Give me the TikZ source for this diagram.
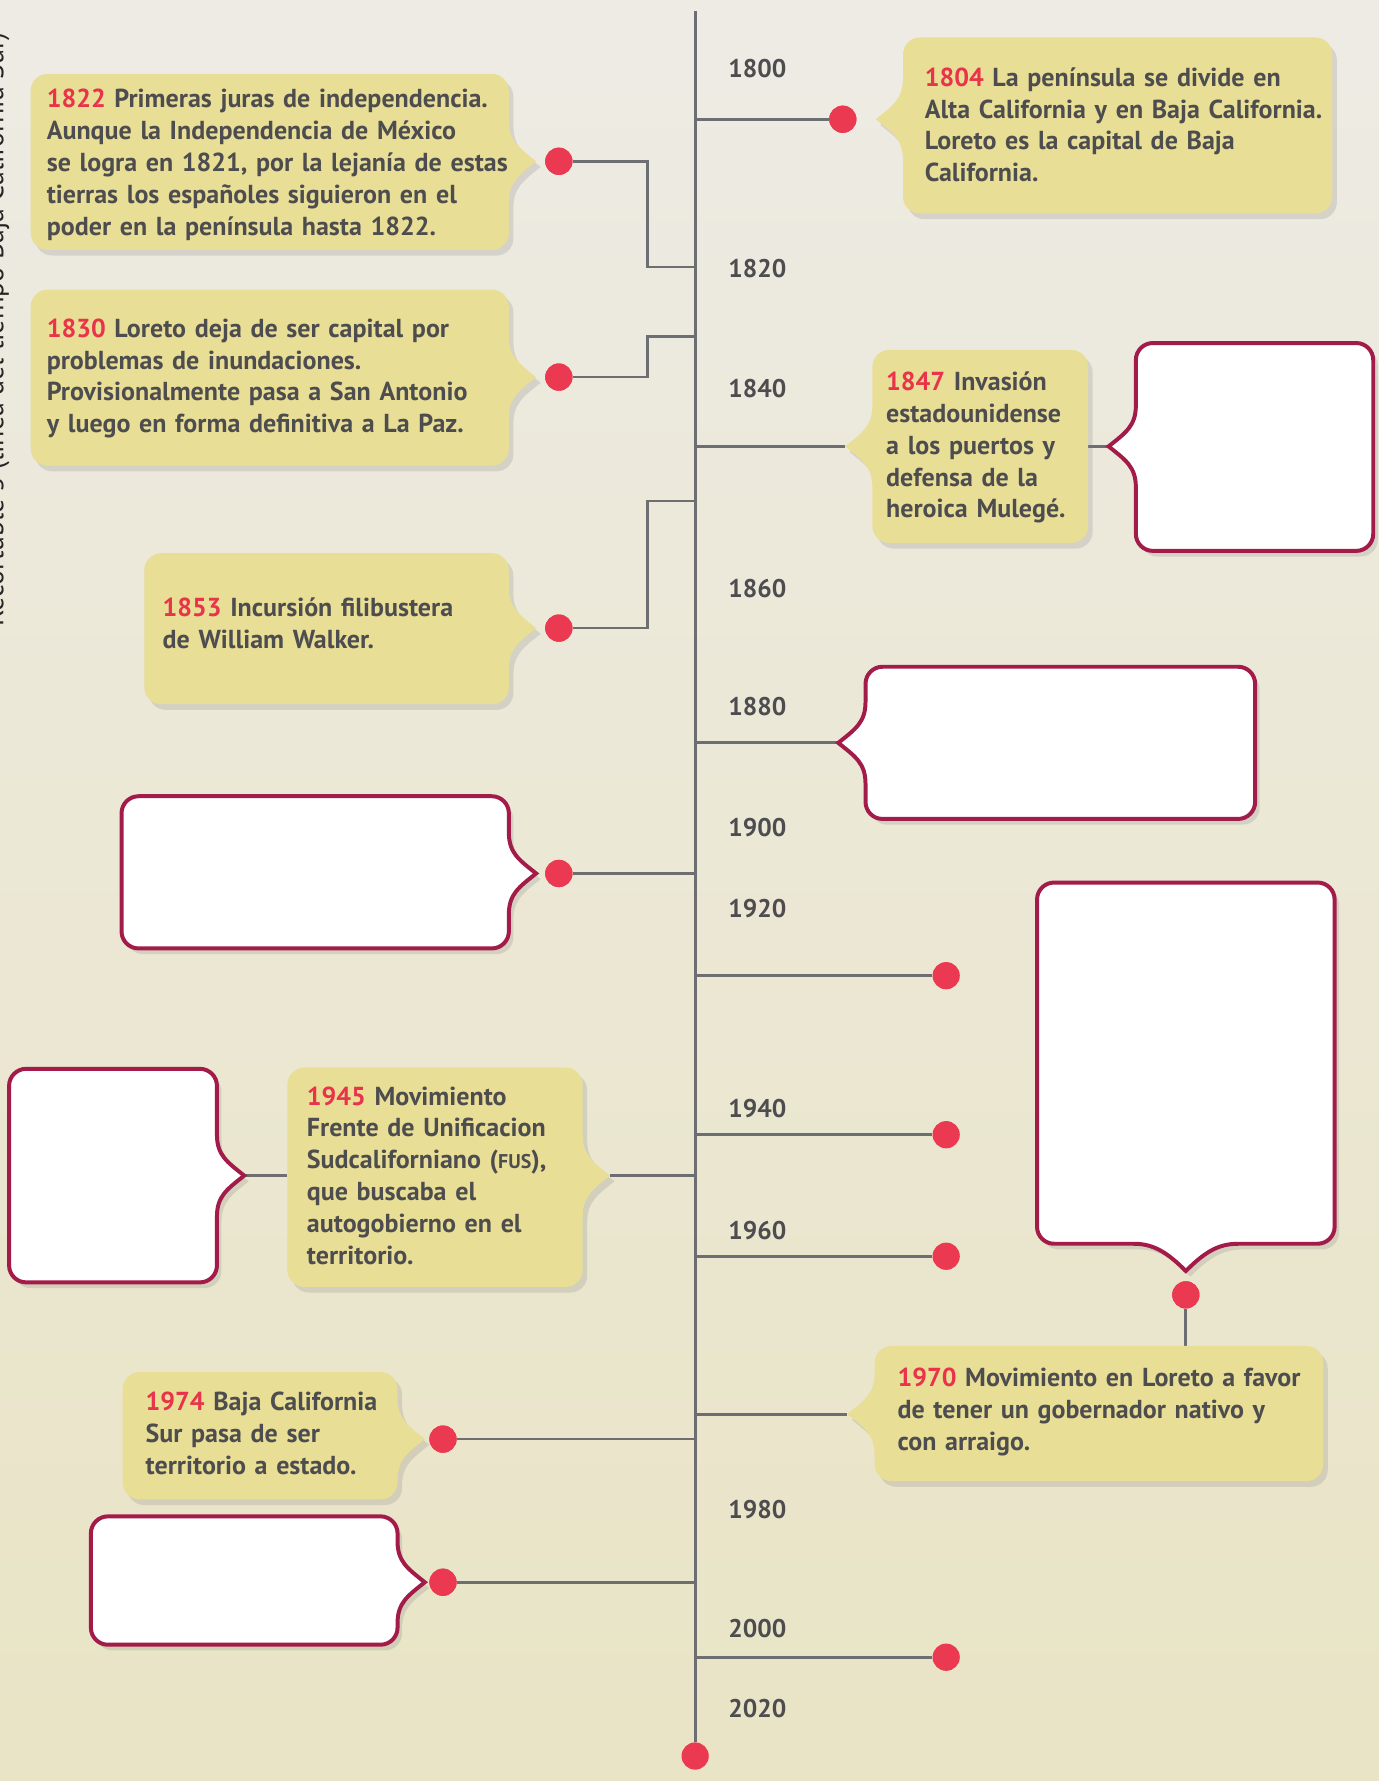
\documentclass[tikz,border=0pt]{standalone}
\usepackage{fontspec}
\setmainfont{PT Sans}
\usepackage{xcolor}
\usetikzlibrary{calc}
\usetikzlibrary{shadows}
\definecolor{bgtop}{RGB}{237,235,228}
\definecolor{bgbot}{RGB}{233,228,197}
\definecolor{notefill}{RGB}{232,222,150}
\definecolor{blankline}{RGB}{163,27,72}
\definecolor{linegray}{RGB}{109,110,113}
\definecolor{dotred}{RGB}{234,57,80}
\definecolor{yearred}{RGB}{232,51,74}
\definecolor{txtgray}{RGB}{77,77,79}
\tikzstyle{notebox}=[fill=notefill,
  drop shadow={opacity=0.22,shadow xshift=4pt,shadow yshift=-5pt}]
\tikzstyle{blankbox}=[fill=white,draw=blankline,line width=3.5pt,
  drop shadow={opacity=0.22,shadow xshift=4pt,shadow yshift=-5pt}]
\tikzstyle{branchline}=[linegray,line width=2.4pt]
\tikzstyle{reddot}=[circle,fill=dotred,minimum size=24pt,inner sep=0pt]
\tikzstyle{bodytxt}=[anchor=base west,inner sep=0pt,text width=430pt,align=left,
  text=txtgray,font=\fontsize{22.9}{28}\selectfont\bfseries]
\tikzstyle{yeartxt}=[anchor=west,inner sep=0pt,text=txtgray,font=\fontsize{22.5}{28}\selectfont\bfseries]
\newcommand\evyear[1]{\textcolor{yearred}{#1}}
\def\rr{15} % corner radius
\def\tb{36} % half height of a tab
% box with its tab on the right: [style]{x1}{y1}{x2}{y2}{tab y}, y counted downwards
\newcommand\noteR[6][notebox]{
  \path[#1] (#2+\rr,-#3) -- (#4-\rr,-#3) arc[start angle=90,end angle=0,radius=\rr]
    -- (#4,-#6+\tb)
    .. controls (#4,-#6+18) and (#4+9,-#6+12) .. (#4+24,-#6)
    .. controls (#4+9,-#6-12) and (#4,-#6-18) .. (#4,-#6-\tb)
    -- (#4,-#5+\rr) arc[start angle=0,end angle=-90,radius=\rr]
    -- (#2+\rr,-#5) arc[start angle=-90,end angle=-180,radius=\rr]
    -- (#2,-#3-\rr) arc[start angle=180,end angle=90,radius=\rr] -- cycle;
}
% box with its tab on the left
\newcommand\noteL[6][notebox]{
  \path[#1] (#2+\rr,-#3) -- (#4-\rr,-#3) arc[start angle=90,end angle=0,radius=\rr]
    -- (#4,-#5+\rr) arc[start angle=0,end angle=-90,radius=\rr]
    -- (#2+\rr,-#5) arc[start angle=-90,end angle=-180,radius=\rr]
    -- (#2,-#6-\tb)
    .. controls (#2,-#6-18) and (#2-9,-#6-12) .. (#2-24,-#6)
    .. controls (#2-9,-#6+12) and (#2,-#6+18) .. (#2,-#6+\tb)
    -- (#2,-#3-\rr) arc[start angle=180,end angle=90,radius=\rr] -- cycle;
}

\begin{document}
\begin{tikzpicture}[x=1pt,y=1pt]
  \useasboundingbox (0,0) rectangle (1214,-1568);
  \shade[top color=bgtop,bottom color=bgbot] (0,0) rectangle (1214,-1568);

  \node[rotate=90,anchor=base,inner sep=0pt,text=black!85,font=\fontsize{24.5}{28}\selectfont]
    (side) at (3,-290) {Recortable 3 (línea del tiempo Baja California Sur)};

  % AXIS
  \coordinate (top) at (612,-10);
  \node[reddot] (end) at (612,-1546) {};
  \coordinate (a1804) at (612,-105);
  \coordinate (a1822) at (612,-235);
  \coordinate (a1830) at (612,-296);
  \coordinate (a1847) at (612,-393);
  \coordinate (a1853) at (612,-441);
  \coordinate (a1880) at (612,-654);
  \coordinate (a1900) at (612,-769);
  \coordinate (a1920) at (612,-859);
  \coordinate (a1940) at (612,-999);
  \coordinate (a1945) at (612,-1035);
  \coordinate (a1960) at (612,-1106);
  \coordinate (a1970) at (612,-1245);
  \coordinate (a1974) at (612,-1267);
  \coordinate (a1990) at (612,-1393);
  \coordinate (a2000) at (612,-1459);

  % dots
  \node[reddot] (d1804) at (742,-105) {};
  \node[reddot] (d1822) at (492,-142) {};
  \node[reddot] (d1830) at (492,-332) {};
  \node[reddot] (d1853) at (492,-553) {};
  \node[reddot] (d1900) at (492,-769) {};
  \node[reddot] (d1920) at (833,-859) {};
  \node[reddot] (d1940) at (833,-999) {};
  \node[reddot] (d1960) at (833,-1106) {};
  \node[reddot] (dtall) at (1044,-1140) {};
  \node[reddot] (d1974) at (390,-1267) {};
  \node[reddot] (d1990) at (390,-1393) {};
  \node[reddot] (d2000) at (833,-1459) {};

  % tab tips and box edges
  \coordinate (t1847) at (744,-393);
  \coordinate (r1847) at (958,-393);
  \coordinate (b1847) at (976,-393);
  \coordinate (b1880) at (738,-654);
  \coordinate (t1945) at (537,-1035);
  \coordinate (l1945) at (253,-1035);
  \coordinate (b1945) at (215,-1035);
  \coordinate (t1970) at (746,-1245);
  \coordinate (top1970) at (1044,-1185);

  % BRANCHES
  \draw[branchline] (top) -- (end);
  \draw[branchline] (a1804) -- (d1804);
  \draw[branchline] (d1822) -| (570,-235) -- (a1822);
  \draw[branchline] (d1830) -| (570,-296) -- (a1830);
  \draw[branchline] (a1847) -- (t1847);
  \draw[branchline] (r1847) -- (b1847);
  \draw[branchline] (d1853) -| (570,-441) -- (a1853);
  \draw[branchline] (a1880) -- (b1880);
  \draw[branchline] (a1900) -- (d1900);
  \draw[branchline] (a1920) -- (d1920);
  \draw[branchline] (a1940) -- (d1940);
  \draw[branchline] (a1960) -- (d1960);
  \draw[branchline] (a1945) -- (t1945);
  \draw[branchline] (l1945) -- (b1945);
  \draw[branchline] (dtall) -- (top1970);
  \draw[branchline] (a1970) -- (t1970);
  \draw[branchline] (a1974) -- (d1974);
  \draw[branchline] (a1990) -- (d1990);
  \draw[branchline] (a2000) -- (d2000);

  % BOXES
  \noteL{795}{33}{1173}{188}{105}
  \noteR{27}{65}{448}{220}{142}
  \noteR{27}{255}{448}{410}{332}
  \noteL{768}{308}{958}{478}{393}
  \noteL[blankbox]{1000}{302}{1209}{485}{393}
  \noteR{127}{487}{448}{620}{553}
  \noteL[blankbox]{762}{587}{1105}{721}{654}
  \noteR[blankbox]{107}{701}{448}{835}{769}
  \path[blankbox] (913+\rr,-777) -- (1175-\rr,-777) arc[start angle=90,end angle=0,radius=\rr]
    -- (1175,-1095+\rr) arc[start angle=0,end angle=-90,radius=\rr] -- (1090,-1095)
    .. controls (1072,-1095) and (1060,-1103) .. (1044,-1119)
    .. controls (1028,-1103) and (1016,-1095) .. (998,-1095)
    -- (913+\rr,-1095) arc[start angle=-90,end angle=-180,radius=\rr]
    -- (913,-777-\rr) arc[start angle=180,end angle=90,radius=\rr] -- cycle;
  \noteR{253}{940}{513}{1133}{1035}
  \noteR[blankbox]{8}{941}{191}{1129}{1035}
  \noteL{770}{1185}{1165}{1304}{1245}
  \noteR{108}{1208}{350}{1320}{1267}
  \noteR[blankbox]{80}{1335}{350}{1448}{1393}

  % redraw dots over the tabs
  \foreach \d in {d1804,d1822,d1830,d1853,d1900,dtall,d1974,d1990}
    \node[reddot] at (\d) {};

  % TEXTS
  \node[bodytxt] (n1804) at (814,-76) {\evyear{1804} La península se divide en\\Alta California y en Baja California.\\Loreto es la capital de Baja\\California.};
  \node[bodytxt] (n1822) at (41,-95) {\evyear{1822} Primeras juras de independencia.\\Aunque la Independencia de México\\se logra en 1821, por la lejanía de estas\\tierras los españoles siguieron en el\\poder en la península hasta 1822.};
  \node[bodytxt] (n1830) at (41,-297) {\evyear{1830} Loreto deja de ser capital por\\problemas de inundaciones.\\Provisionalmente pasa a San Antonio\\y luego en forma definitiva a La Paz.};
  \node[bodytxt] (n1847) at (780,-344) {\evyear{1847} Invasión\\estadounidense\\a los puertos y\\defensa de la\\heroica Mulegé.};
  \node[bodytxt] (n1853) at (143,-543) {\evyear{1853} Incursión filibustera\\de William Walker.};
  \node[bodytxt] (n1945) at (270,-973) {\evyear{1945} Movimiento\\Frente de Unificacion\\Sudcaliforniano ({\fontsize{17.5}{28}\selectfont FUS}),\\que buscaba el\\autogobierno en el\\territorio.};
  \node[bodytxt] (n1970) at (790,-1221) {\evyear{1970} Movimiento en Loreto a favor\\de tener un gobernador nativo y\\con arraigo.};
  \node[bodytxt] (n1974) at (128,-1242) {\evyear{1974} Baja California\\Sur pasa de ser\\territorio a estado.};

  % YEARS
  \foreach \yy/\py in {1800/60,1820/236,1840/342,1860/518,1880/622,1900/729,
    1920/800,1940/976,1960/1083,1980/1329,2000/1434,2020/1504}
    \node[yeartxt] (y\yy) at (641,-\py) {\yy};
\end{tikzpicture}
\end{document}
